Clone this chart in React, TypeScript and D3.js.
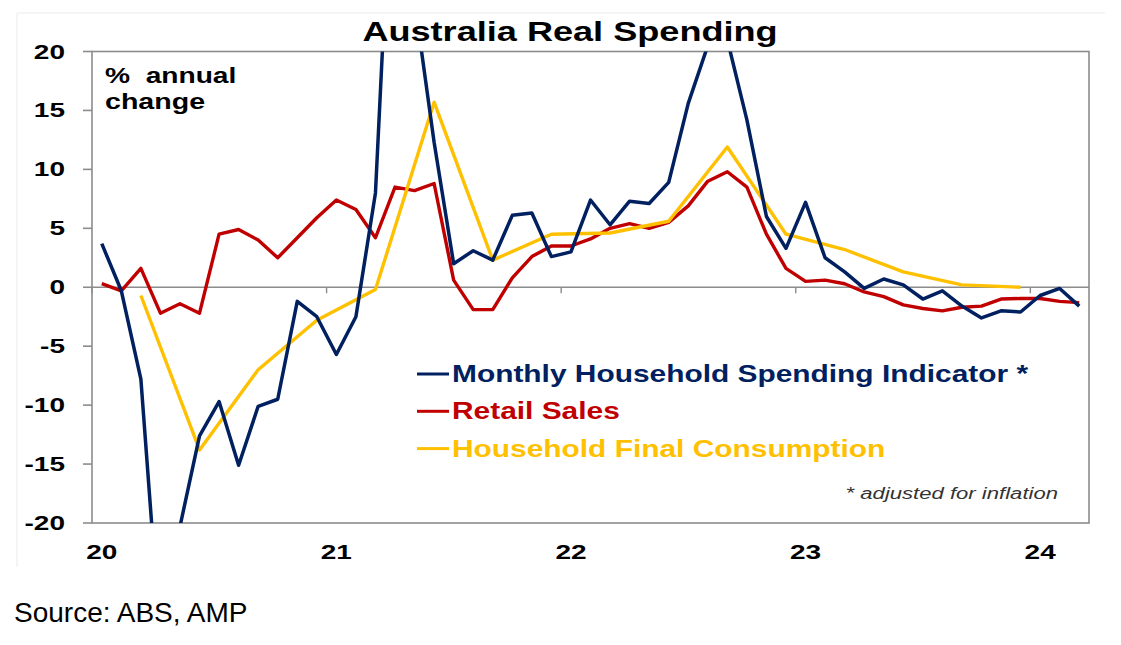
import React from "react";
import * as d3 from "d3";

// monthly categories, Jan 2020 .. Mar 2024
const months: string[] = d3.timeMonth
  .range(new Date(2020, 0, 1), new Date(2024, 3, 1))
  .map((d) => d3.timeFormat("%Y-%m")(d));

// Monthly Household Spending Indicator (real, % y/y)
const hsiValues = [
  3.7, -0.3, -7.8, -30.0, -20.3, -12.6, -9.7, -15.1, -10.1, -9.5, -1.2, -2.5,
  -5.7, -2.5, 8.0, 42.0, 24.3, 12.3, 2.0, 3.1, 2.3, 6.1, 6.3, 2.6,
  3.0, 7.4, 5.3, 7.3, 7.1, 8.9, 15.6, 20.5, 21.0, 14.2, 6.0, 3.3,
  7.2, 2.5, 1.3, -0.1, 0.7, 0.2, -1.0, -0.3, -1.6, -2.6, -2.0, -2.1,
  -0.7, -0.1, -1.6,
];

// Retail sales volumes (% y/y)
const retailValues = [
  0.3, -0.3, 1.6, -2.2, -1.4, -2.2, 4.5, 4.9, 4.0, 2.5, 4.2, 5.9,
  7.4, 6.6, 4.2, 8.5, 8.2, 8.8, 0.6, -1.9, -1.9, 0.8, 2.6, 3.5,
  3.5, 4.1, 5.0, 5.4, 5.0, 5.5, 6.9, 9.0, 9.8, 8.5, 4.5, 1.6,
  0.5, 0.6, 0.3, -0.4, -0.8, -1.5, -1.8, -2.0, -1.7, -1.6, -1.0, -0.95,
  -0.95, -1.2, -1.3,
];

// Household final consumption, quarterly
const hfcMonths = [
  "2020-03", "2020-06", "2020-09", "2020-12",
  "2021-03", "2021-06", "2021-09", "2021-12",
  "2022-03", "2022-06", "2022-09", "2022-12",
  "2023-03", "2023-06", "2023-09", "2023-12",
];
const hfcValues = [-0.7, -13.8, -7.0, -2.8, -0.2, 15.7, 2.3, 4.5, 4.6, 5.6, 11.9, 4.5, 3.2, 1.3, 0.2, 0.0];

const yTicks = [20, 15, 10, 5, 0, -5, -10, -15, -20];
const yearLabels = ["20", "21", "22", "23", "24"];
const yearMonths = ["2020-01", "2021-01", "2022-01", "2023-01", "2024-01"];

const legendItems = [
  { label: "Monthly Household Spending Indicator *", color: "#002060" },
  { label: "Retail Sales", color: "#C00000" },
  { label: "Household Final Consumption", color: "#FFC000" },
];

const FONT = "'Liberation Sans', Arial, Helvetica, sans-serif";

const T: React.FC<{
  x: number;
  y: number;
  sx?: number;
  size: number;
  anchor?: "start" | "middle" | "end";
  weight?: string;
  italic?: boolean;
  fill?: string;
  children: React.ReactNode;
}> = ({ x, y, sx = 1.3, size, anchor = "start", weight = "bold", italic, fill = "#000", children }) => (
  <text
    transform={`translate(${x},${y}) scale(${sx},1)`}
    textAnchor={anchor}
    fontFamily={FONT}
    fontSize={size}
    fontWeight={weight}
    fontStyle={italic ? "italic" : "normal"}
    fill={fill}
    style={{ whiteSpace: "pre" }}
  >
    {children}
  </text>
);

const App: React.FC = () => {
  const width = 1121;
  const height = 645;
  const left = 92;
  const right = 1089;
  const top = 51.5;
  const bottom = 523;

  const x = d3.scaleBand<string>().domain(months).range([left, right]).padding(0);
  const xc = (m: string) => (x(m) ?? 0) + x.bandwidth() / 2;
  const y = d3.scaleLinear().domain([-20, 20]).range([bottom, top]);

  const line = d3
    .line<[string, number]>()
    .x((d) => xc(d[0]))
    .y((d) => y(d[1]));

  const hsi = months.map((m, i) => [m, hsiValues[i]] as [string, number]);
  const retail = months.map((m, i) => [m, retailValues[i]] as [string, number]);
  const hfc = hfcMonths.map((m, i) => [m, hfcValues[i]] as [string, number]);

  const axisColor = "#8c8c8c";

  return (
    <svg
      width={width}
      height={height}
      style={{ position: "absolute", left: 0, top: 0, background: "#fff" }}
    >
      <rect x={0} y={0} width={width} height={height} fill="#fff" />
      {/* faint outer frame */}
      <line x1={17} y1={13} x2={17} y2={567} stroke="#f2f2f2" strokeWidth={1.5} />
      <line x1={17} y1={13} x2={1105} y2={13} stroke="#f2f2f2" strokeWidth={1.5} />

      <T x={570} y={41} size={28} sx={1.29} anchor="middle">
        Australia Real Spending
      </T>

      {/* plot frame */}
      <rect x={left} y={top} width={right - left} height={bottom - top} fill="none" stroke={axisColor} strokeWidth={1.6} />

      {/* y ticks */}
      {yTicks.map((t) => (
        <g key={t}>
          <line x1={left - 9} x2={left} y1={y(t)} y2={y(t)} stroke={axisColor} strokeWidth={1.6} />
          <T x={65} y={y(t) + 7} size={20} sx={1.4} anchor="end">
            {String(t)}
          </T>
        </g>
      ))}

      {/* zero line with year ticks */}
      <line x1={left} x2={right} y1={y(0)} y2={y(0)} stroke={axisColor} strokeWidth={1.6} />
      {yearMonths.map((m) => (
        <line key={m} x1={x(m)} x2={x(m)} y1={y(0)} y2={y(0) + 6} stroke={axisColor} strokeWidth={1.4} />
      ))}
      {yearMonths.map((m, i) => (
        <T key={m} x={xc(m)} y={559} size={20} sx={1.4} anchor="middle">
          {yearLabels[i]}
        </T>
      ))}

      <T x={105} y={83} size={22} sx={1.28}>
        {"%  annual"}
      </T>
      <T x={105} y={109} size={22} sx={1.3}>
        change
      </T>

      <defs>
        <clipPath id="plotClip">
          <rect x={left} y={top} width={right - left} height={bottom - top} />
        </clipPath>
      </defs>
      <g clipPath="url(#plotClip)" fill="none" strokeLinejoin="round">
        <path d={line(retail) ?? ""} stroke="#C00000" strokeWidth={3.4} />
        <path d={line(hfc) ?? ""} stroke="#FFC000" strokeWidth={3.4} />
        <path d={line(hsi) ?? ""} stroke="#002060" strokeWidth={3.5} />
      </g>

      {/* legend */}
      {legendItems.map((it, i) => {
        const by = 382 + i * 37.3;
        return (
          <g key={it.label}>
            <line x1={417} x2={449} y1={by - 8} y2={by - 8} stroke={it.color} strokeWidth={3} />
            <T x={452} y={by} size={23} sx={1.3} fill={it.color}>
              {it.label}
            </T>
          </g>
        );
      })}

      <T x={1058} y={499} size={17} sx={1.3} anchor="end" weight="normal" italic fill="#333">
        * adjusted for inflation
      </T>

      <T x={14} y={622} size={28} sx={1} weight="normal">
        Source: ABS, AMP
      </T>
    </svg>
  );
};

export default App;
